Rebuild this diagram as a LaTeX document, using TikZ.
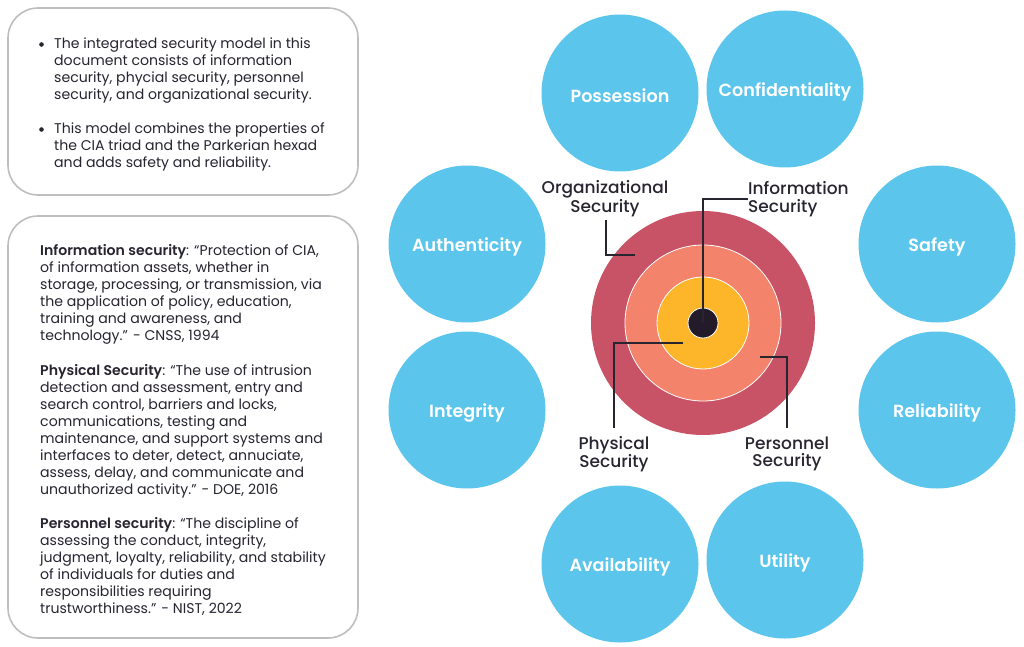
\documentclass[tikz,border=0pt]{standalone}
\usepackage{fontspec}
\setmainfont{Poppins}
\newfontfamily\psemi{Poppins SemiBold}
\newfontfamily\pmed{Poppins Medium}
\definecolor{bubble}{RGB}{91,197,236}
\definecolor{ringA}{RGB}{201,83,102}
\definecolor{ringB}{RGB}{244,131,108}
\definecolor{ringC}{RGB}{253,181,42}
\definecolor{core}{RGB}{35,26,42}
\definecolor{ink}{RGB}{40,36,48}
\definecolor{boxline}{RGB}{190,190,190}
\begin{document}
\begin{tikzpicture}[x=1pt,y=-1pt,
  bub/.style={circle,fill=bubble,minimum size=157pt,inner sep=0pt,
    label={[bubtxt]center:#1}},
  bubtxt/.style={text=white,inner sep=0pt,yshift=-2.5pt,font=\psemi\fontsize{17.6}{20}\selectfont},
  ring/.style={circle,inner sep=0pt,draw=white,line width=0.8pt},
  lbl/.style={align=center,text=ink,font=\pmed\fontsize{17}{17.5}\selectfont,inner sep=0pt},
  leader/.style={draw=ink,line width=1.3pt},
  panel/.style={draw=boxline,line width=1.6pt,rounded corners=30pt,fill=white},
  para/.style={anchor=north west,align=left,inner sep=0pt,text=ink,font=\fontsize{14.1}{17}\selectfont},
  dot/.style={circle,fill=ink,inner sep=0pt,minimum size=4.6pt}]
\useasboundingbox (0,0) rectangle (1024,647);
% panels
\draw[panel] (8,8) rectangle (358,195);
\draw[panel] (8,216) rectangle (358,638);
\node[dot] (b1) at (41.5,44.5) {};
\node[para] (p1) at (54,38) {The integrated security model in this\\document consists of information\\security, phycial security, personnel\\security, and organizational security.};
\node[dot] (b2) at (41.5,129.5) {};
\node[para] (p2) at (54,123) {This model combines the properties of\\the CIA triad and the Parkerian hexad\\and adds safety and reliability.};
\node[para] (q1) at (40,244) {{\psemi Information security}: “Protection of CIA,\\of information assets, whether in\\storage, processing, or transmission, via\\the application of policy, education,\\training and awareness, and\\technology.” - CNSS, 1994};
\node[para] (q2) at (40,364) {{\psemi Physical Security}: “The use of intrusion\\detection and assessment, entry and\\search control, barriers and locks,\\communications, testing and\\maintenance, and support systems and\\interfaces to deter, detect, annuciate,\\assess, delay, and communicate and\\unauthorized activity.” - DOE, 2016};
\node[para] (q3) at (40,517) {{\psemi Personnel security}: “The discipline of\\assessing the conduct, integrity,\\judgment, loyalty, reliability, and stability\\of individuals for duties and\\responsibilities requiring\\trustworthiness.” - NIST, 2022};
% bubbles
\node[bub=Possession] (poss) at (620,93) {};
\node[bub=Confidentiality] (conf) at (785,89) {};
\node[bub=Authenticity] (auth) at (467,244) {};
\node[bub=Safety] (safe) at (937,244) {};
\node[bub=Integrity] (integ) at (467,410) {};
\node[bub=Reliability] (rel) at (937,410) {};
\node[bub=Availability] (avail) at (620,564) {};
\node[bub=Utility] (util) at (785,560) {};
% target
\node[circle,inner sep=0pt,fill=ringA,minimum size=224pt] (org) at (703,323) {};
\node[ring,fill=ringB,minimum size=156pt] (pers) at (703,323) {};
\node[ring,fill=ringC,minimum size=92pt] (phys) at (703,323) {};
\node[circle,inner sep=0pt,fill=core,draw=white,line width=0.8pt,minimum size=30pt] (info) at (703,323) {};
% labels
\node[lbl] (lorg) at (605,199) {Organizational\\Security};
\node[lbl,align=left,anchor=west] (linfo) at (748,199) {Information\\Security};
\node[lbl] (lphys) at (614,454) {Physical\\Security};
\node[lbl] (lpers) at (787,454) {Personnel\\Security};
% leader lines
\coordinate (oe) at (635,255);
\coordinate (pe) at (683,343);
\coordinate (se) at (760,357);
\draw[leader] (info.center) |- (linfo.west);
\draw[leader] (oe) -| (606,220);
\draw[leader] (pe) -| (614,428);
\draw[leader] (se) -| (787,428);
\end{tikzpicture}
\end{document}
